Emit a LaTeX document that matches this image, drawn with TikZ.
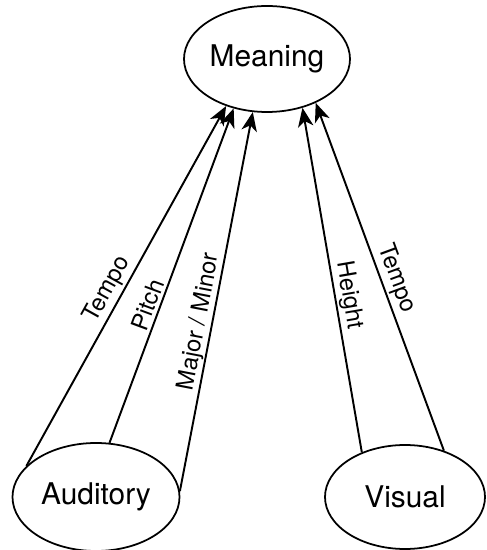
\documentclass[tikz,border=0pt]{standalone}
\usepackage{fontspec}
\setmainfont{TeX Gyre Heros}
\usetikzlibrary{shapes.geometric,arrows.meta}
\tikzset{
    concept/.style={ellipse, draw, line width=1pt, inner sep=0pt, font=\fontsize{17}{20}\selectfont},
    link/.style={line width=1.1pt, -{Stealth[length=3.8mm, width=3.1mm, inset=1.1mm]}},
    cue/.style={sloped, above, inner sep=1.5pt, font=\fontsize{13.5}{16}\selectfont}
}

\begin{document}
\begin{tikzpicture}
    \useasboundingbox (0,0) rectangle (9.72,11);
    % Concepts
    \begin{scope}
        \node[concept, minimum width=3.32cm, minimum height=2.12cm] (meaning) at (5.34, 9.82) {Meaning};
        \node[concept, minimum width=3.34cm, minimum height=2.16cm] (auditory) at (1.92, 1.06) {Auditory};
        \node[concept, minimum width=3.2cm, minimum height=2.08cm] (visual) at (8.1, 1.06) {Visual};
    \end{scope}
    % Auditory cues
    \draw[link] (auditory.156) -- node[cue, pos=0.47] {Tempo} (meaning.229);
    \draw[link] (auditory.76) -- node[cue, pos=0.40] {Pitch} (meaning.236);
    \draw[link] (auditory.4) -- node[cue, pos=0.44, inner sep=0.3pt] {Major / Minor} (meaning.255);
    % Visual cues
    \draw[link] (visual.134) -- node[cue, pos=0.45, inner sep=1pt] {Height} (meaning.306);
    \draw[link] (visual.50) -- node[cue, pos=0.48] {Tempo} (meaning.318);
\end{tikzpicture}
\end{document}
